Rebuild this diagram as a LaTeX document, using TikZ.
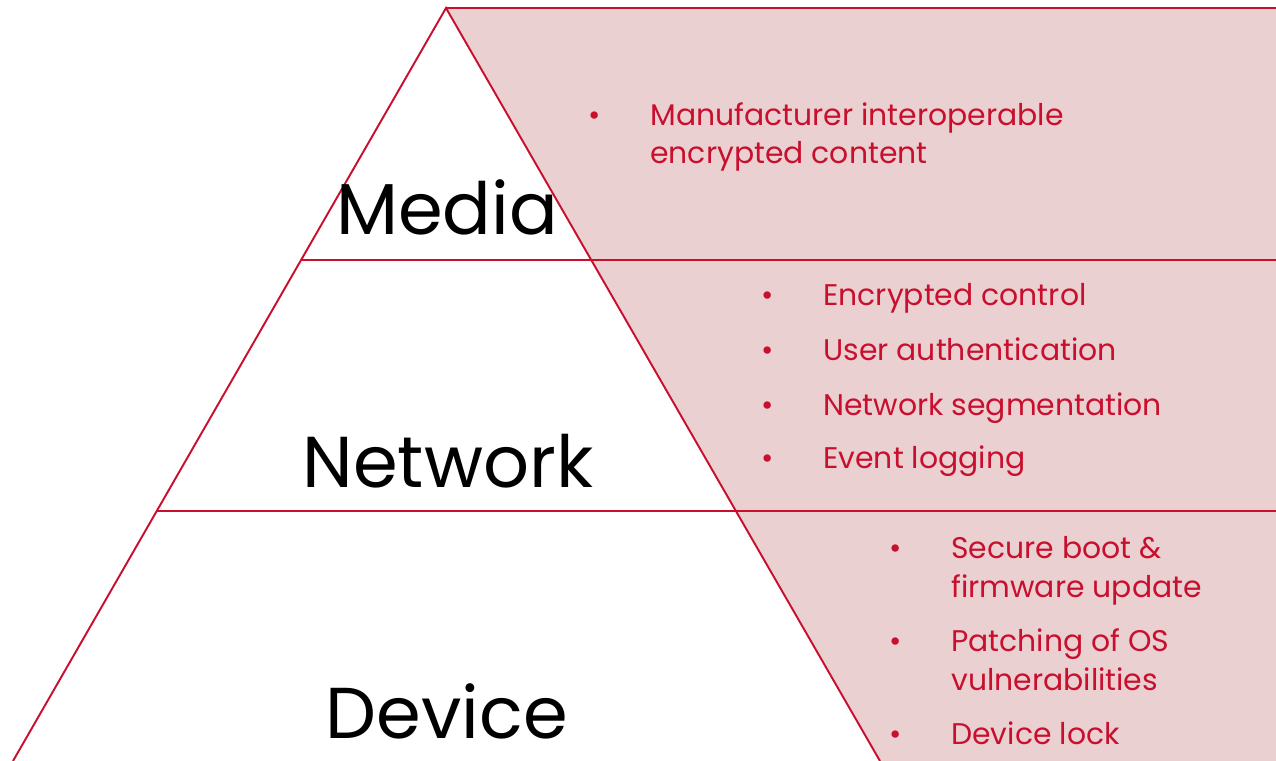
\documentclass[tikz,border=0pt]{standalone}
\usepackage{fontspec}
\setmainfont{Poppins}
\usepackage{tikz}
\definecolor{crim}{HTML}{C8102E}
\definecolor{rose}{HTML}{EBD0D2}
\tikzset{
  edge/.style = {draw=crim, line width=1.1pt},
  layer/.style = {anchor=base, text=black, inner sep=0pt, font=\fontsize{41}{44}\selectfont},
  item/.style = {anchor=base west, text=crim, inner sep=0pt, font=\fontsize{17}{20}\selectfont},
  dot/.style = {anchor=base, text=crim, inner sep=0pt, font=\fontsize{17}{20}\selectfont}
}

\begin{document}
\begin{tikzpicture}[x=0.02cm, y=-0.02cm]
  \useasboundingbox (0,0) rectangle (1276,761);
  % corners of the pyramid
  \coordinate (apex) at (446,8);
  \coordinate (topR) at (1276,8);
  \coordinate (botR) at (1276,761);
  \coordinate (footR) at (880,761);
  \coordinate (footL) at (13,761);
  \coordinate (cutAL) at (301,260);
  \coordinate (cutAR) at (1276,260);
  \coordinate (cutBL) at (156,511);
  \coordinate (cutBR) at (1276,511);
  % shaded band on the right
  \fill[rose] (apex) -- (topR) -- (botR) -- (footR) -- cycle;
  \draw[edge] (footL) -- (apex) -- (footR);
  \draw[edge] (apex) -- (topR);
  \draw[edge] (cutAL) -- (cutAR);
  \draw[edge] (cutBL) -- (cutBR);
  % layer names
  \node[layer] (media) at (447,234) {Media};
  \node[layer] (network) at (448,487) {Network};
  \node[layer] (device) at (447,738) {Device};
  % media items
  \node[dot] (m1d) at (595,125) {•};
  \node[item] (m1) at (650,125) {Manufacturer interoperable};
  \node[item] (m1b) at (650,163) {encrypted content};
  % network items
  \node[dot] (n1d) at (768,305) {•};
  \node[item] (n1) at (823,305) {Encrypted control};
  \node[dot] (n2d) at (768,360) {•};
  \node[item] (n2) at (823,360) {User authentication};
  \node[dot] (n3d) at (768,415) {•};
  \node[item] (n3) at (823,415) {Network segmentation};
  \node[dot] (n4d) at (768,468) {•};
  \node[item] (n4) at (823,468) {Event logging};
  % device items
  \node[dot] (d1d) at (896,558) {•};
  \node[item] (d1) at (951,558) {Secure boot \&};
  \node[item] (d1b) at (951,597) {firmware update};
  \node[dot] (d2d) at (896,651) {•};
  \node[item] (d2) at (951,651) {Patching of OS};
  \node[item] (d2b) at (951,690) {vulnerabilities};
  \node[dot] (d3d) at (896,744) {•};
  \node[item] (d3) at (951,744) {Device lock};
\end{tikzpicture}
\end{document}
